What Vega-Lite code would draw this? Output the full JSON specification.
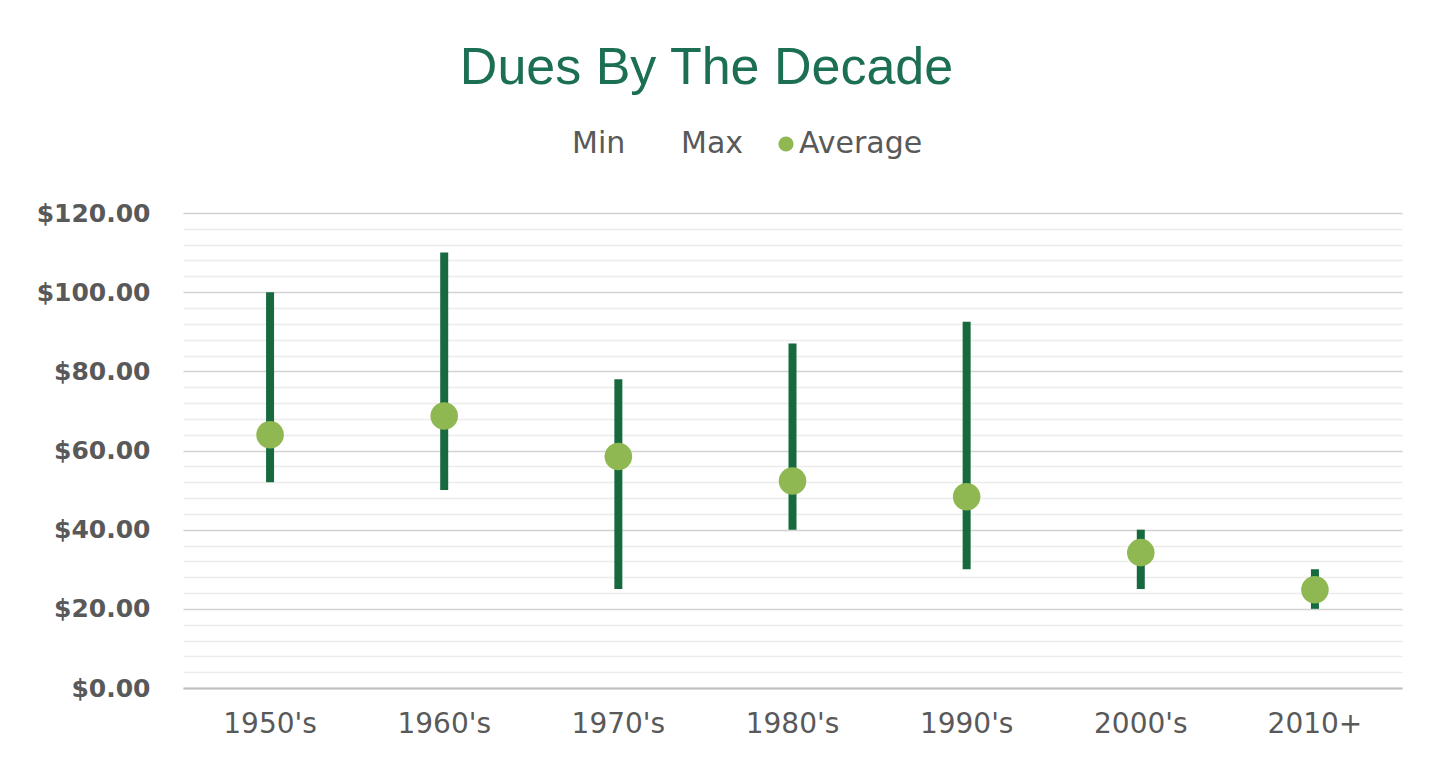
{
  "$schema": "https://vega.github.io/schema/vega-lite/v6.json",
  "autosize": {"type": "none"},
  "width": 1219,
  "height": 475,
  "padding": {"left": 183, "top": 213, "right": 35, "bottom": 78},
  "background": "white",
  "config": {"view": {"stroke": null}},
  "title": {
    "text": "Dues By The Decade",
    "font": "Liberation Sans",
    "fontSize": 52,
    "fontWeight": "normal",
    "color": "#1c6f55",
    "anchor": "middle",
    "frame": "group",
    "dx": -86,
    "dy": 47,
    "baseline": "alphabetic",
    "offset": 40
  },
  "data": {
    "values": [
      {"decade": "1950's", "min": 52, "max": 100, "avg": 64},
      {"decade": "1960's", "min": 50, "max": 110, "avg": 68.7},
      {"decade": "1970's", "min": 25, "max": 78, "avg": 58.5},
      {"decade": "1980's", "min": 40, "max": 87, "avg": 52.3},
      {"decade": "1990's", "min": 30, "max": 92.5, "avg": 48.3},
      {"decade": "2000's", "min": 25, "max": 40, "avg": 34.2},
      {"decade": "2010+", "min": 20, "max": 30, "avg": 24.8}
    ]
  },
  "encoding": {
    "x": {
      "field": "decade",
      "type": "nominal",
      "sort": null,
      "scale": {"paddingInner": 0, "paddingOuter": 0},
      "axis": {
        "title": null,
        "labelAngle": 0,
        "labelFont": "DejaVu Sans",
        "labelFontSize": 28,
        "labelColor": "#595959",
        "labelPadding": 22,
        "ticks": false,
        "tickSize": 0,
        "domain": true,
        "domainColor": "#bfbfbf",
        "domainWidth": 2,
        "grid": false
      }
    }
  },
  "layer": [
    {
      "mark": {"type": "rule", "color": "#17693e", "strokeWidth": 8, "strokeCap": "butt"},
      "encoding": {
        "y": {
          "field": "min",
          "type": "quantitative",
          "scale": {"domain": [0, 120], "nice": false},
          "axis": {
            "title": null,
            "values": [0, 4, 8, 12, 16, 20, 24, 28, 32, 36, 40, 44, 48, 52, 56, 60, 64, 68, 72, 76, 80, 84, 88, 92, 96, 100, 104, 108, 112, 116, 120],
            "labelExpr": "datum.value % 20 === 0 ? format(datum.value, '$,.2f') : ''",
            "labelOverlap": false,
            "labelFont": "DejaVu Sans",
            "labelFontWeight": "bold",
            "labelFontSize": 25,
            "labelColor": "#595959",
            "labelPadding": 33,
            "ticks": false,
            "tickSize": 0,
            "domain": false,
            "grid": true,
            "gridColor": {"condition": {"test": "datum.value % 20 === 0", "value": "#d2d2d2"}, "value": "#ececec"},
            "gridWidth": 1.5
          }
        },
        "y2": {"field": "max"}
      }
    },
    {
      "mark": {"type": "point", "filled": true, "size": 760, "opacity": 1, "shape": "circle"},
      "encoding": {
        "y": {
          "field": "avg",
          "type": "quantitative",
          "scale": {"domain": [0, 120], "nice": false},
          "axis": {
            "title": null,
            "values": [0, 4, 8, 12, 16, 20, 24, 28, 32, 36, 40, 44, 48, 52, 56, 60, 64, 68, 72, 76, 80, 84, 88, 92, 96, 100, 104, 108, 112, 116, 120],
            "labelExpr": "datum.value % 20 === 0 ? format(datum.value, '$,.2f') : ''",
            "labelOverlap": false,
            "labelFont": "DejaVu Sans",
            "labelFontWeight": "bold",
            "labelFontSize": 25,
            "labelColor": "#595959",
            "labelPadding": 33,
            "ticks": false,
            "tickSize": 0,
            "domain": false,
            "grid": true,
            "gridColor": {"condition": {"test": "datum.value % 20 === 0", "value": "#d2d2d2"}, "value": "#ececec"},
            "gridWidth": 1.5
          }
        },
        "color": {
          "datum": "Average",
          "type": "nominal",
          "scale": {"domain": ["Min", "Max", "Average"], "range": ["transparent", "transparent", "#8fb852"]},
          "legend": {
            "title": null,
            "orient": "none",
            "legendX": 361,
            "legendY": -84,
            "direction": "horizontal",
            "labelFont": "DejaVu Sans",
            "labelFontSize": 30,
            "labelColor": "#595959",
            "symbolType": "circle",
            "symbolSize": 230,
            "symbolStrokeWidth": 0,
            "columnPadding": 27,
            "labelOffset": -2
          }
        }
      }
    }
  ]
}
